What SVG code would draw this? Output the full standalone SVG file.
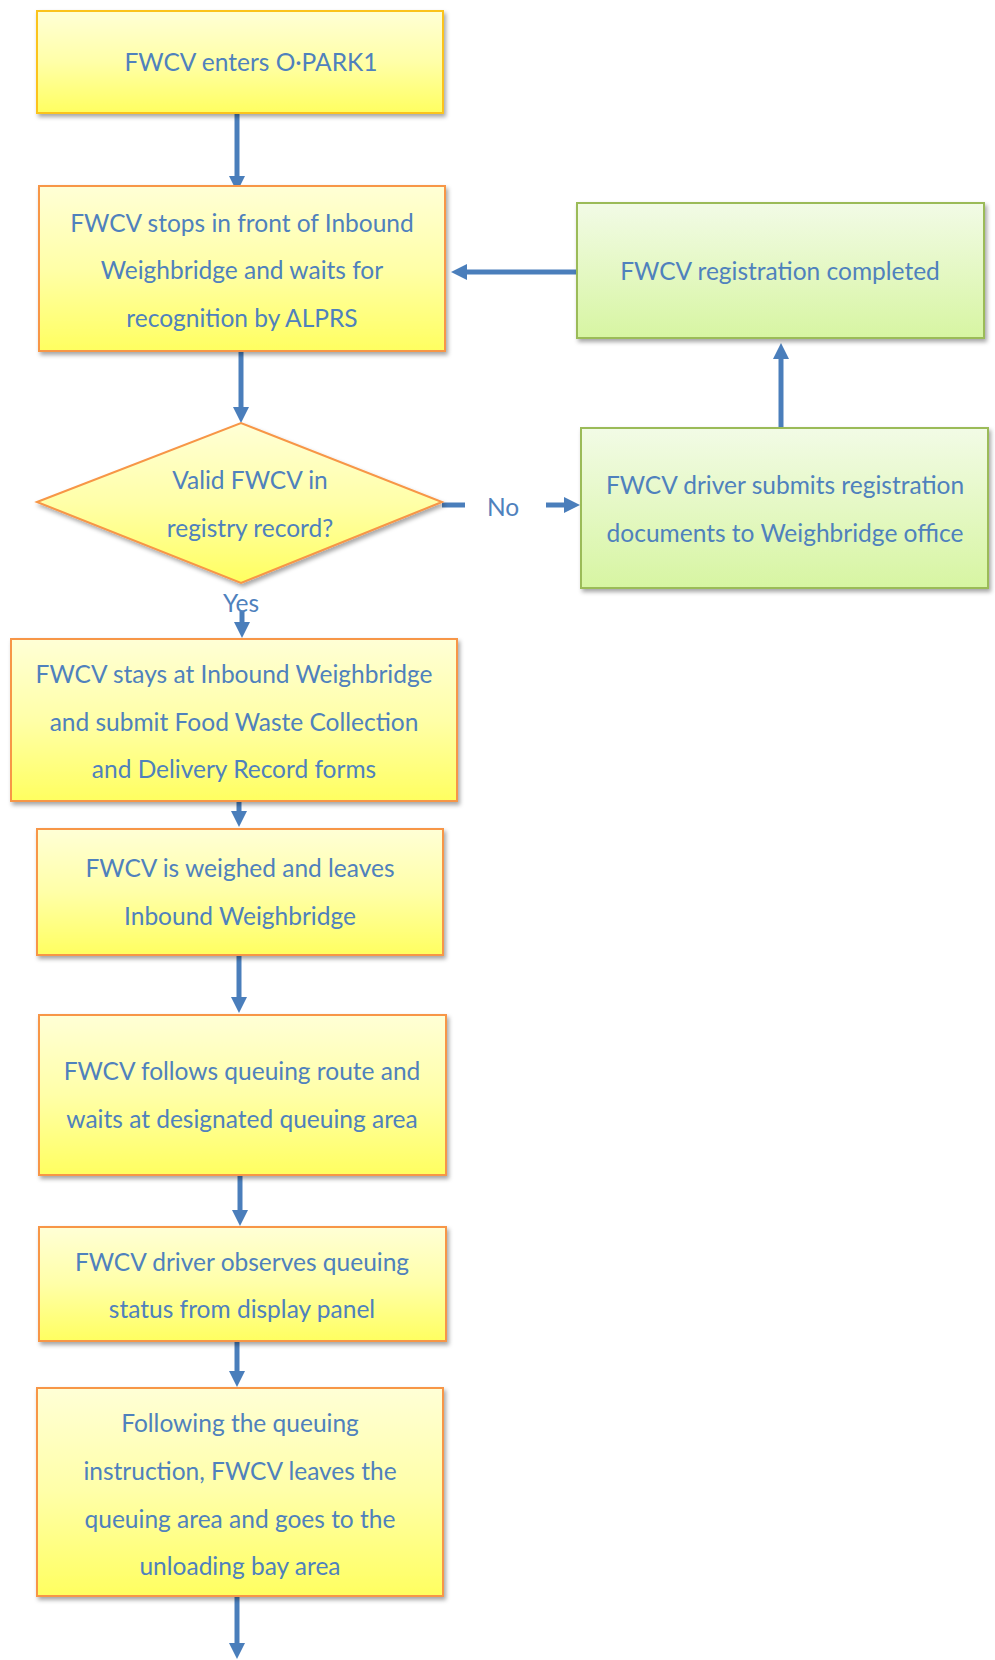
<svg xmlns="http://www.w3.org/2000/svg" width="995" height="1660" viewBox="0 0 995 1660">
<style>
  .y { fill: url(#gy); stroke: #F79646; stroke-width: 2; filter: url(#sh); }
  .y1 { fill: url(#gy); stroke: #FBC31A; stroke-width: 2; filter: url(#sh); }
  .g { fill: url(#gg); stroke: #9BBB59; stroke-width: 2; filter: url(#sh); }
  .t { font-family: Lato, "Open Sans", sans-serif; font-size: 24.5px; fill: #4F81BD; text-anchor: middle; }
  .c { stroke: #4A7EBB; stroke-width: 5; fill: none; }
  .ca { stroke: #4A7EBB; stroke-width: 5; fill: none; marker-end: url(#ah); }
</style>
<defs>
  <linearGradient id="gy" x1="0" y1="0" x2="0" y2="1">
    <stop offset="0" stop-color="#FFFFD6"/>
    <stop offset="0.5" stop-color="#FFFFA8"/>
    <stop offset="1" stop-color="#FFFF60"/>
  </linearGradient>
  <linearGradient id="gg" x1="0" y1="0" x2="0" y2="1">
    <stop offset="0" stop-color="#F2FBE6"/>
    <stop offset="1" stop-color="#D7F5A2"/>
  </linearGradient>
  <filter id="sh" x="-10%" y="-10%" width="120%" height="130%">
    <feDropShadow dx="2" dy="3" stdDeviation="2" flood-color="#000" flood-opacity="0.35"/>
  </filter>
  <marker id="ah" markerUnits="userSpaceOnUse" markerWidth="18" markerHeight="18" viewBox="0 -9 16 18" refX="1" refY="0" orient="auto">
    <path d="M0,-8 L16,0 L0,8 z" fill="#4A7EBB"/>
  </marker>
</defs>

<g id="connectors">
  <line class="ca" x1="237" y1="113" x2="237" y2="177"/>
  <line class="ca" x1="241" y1="351" x2="241" y2="408"/>
  <line class="ca" x1="577" y1="272" x2="466" y2="272"/>
  <line class="ca" x1="781" y1="427" x2="781" y2="358"/>
  <line class="c" x1="442" y1="505" x2="465" y2="505"/>
  <line class="ca" x1="546" y1="505" x2="565" y2="505"/>
  <line class="ca" x1="242" y1="611" x2="242" y2="623"/>
  <line class="ca" x1="239" y1="801" x2="239" y2="812"/>
  <line class="ca" x1="239" y1="955" x2="239" y2="998"/>
  <line class="ca" x1="240" y1="1175" x2="240" y2="1211"/>
  <line class="ca" x1="237" y1="1341" x2="237" y2="1372"/>
  <line class="ca" x1="237" y1="1596" x2="237" y2="1644"/>
  <text class="t" x="503" y="516">No</text>
  <text class="t" x="241" y="612">Yes</text>
</g>

<g id="n1">
  <rect class="y1" x="37" y="11" width="406" height="102"/>
  <text class="t" x="251" y="71">FWCV enters O·PARK1</text>
</g>
<g id="n2">
  <rect class="y" x="39" y="186" width="406" height="165"/>
  <text class="t" x="242" y="232">FWCV stops in front of Inbound</text>
  <text class="t" x="242" y="279">Weighbridge and waits for</text>
  <text class="t" x="242" y="327">recognition by ALPRS</text>
</g>
<g id="n3">
  <path class="y" d="M37,502 L241,423 L442,502 L241,583 Z"/>
  <text class="t" x="250" y="489">Valid FWCV in</text>
  <text class="t" x="250" y="537">registry record?</text>
</g>
<g id="n4">
  <rect class="g" x="577" y="203" width="407" height="135"/>
  <text class="t" x="780" y="280">FWCV registration completed</text>
</g>
<g id="n5">
  <rect class="g" x="581" y="428" width="407" height="160"/>
  <text class="t" x="785" y="494">FWCV driver submits registration</text>
  <text class="t" x="785" y="542">documents to Weighbridge office</text>
</g>
<g id="n6">
  <rect class="y" x="11" y="639" width="446" height="162"/>
  <text class="t" x="234" y="683">FWCV stays at Inbound Weighbridge</text>
  <text class="t" x="234" y="731">and submit Food Waste Collection</text>
  <text class="t" x="234" y="778">and Delivery Record forms</text>
</g>
<g id="n7">
  <rect class="y" x="37" y="829" width="406" height="126"/>
  <text class="t" x="240" y="877">FWCV is weighed and leaves</text>
  <text class="t" x="240" y="925">Inbound Weighbridge</text>
</g>
<g id="n8">
  <rect class="y" x="39" y="1015" width="407" height="160"/>
  <text class="t" x="242" y="1080">FWCV follows queuing route and</text>
  <text class="t" x="242" y="1128">waits at designated queuing area</text>
</g>
<g id="n9">
  <rect class="y" x="39" y="1227" width="407" height="114"/>
  <text class="t" x="242" y="1271">FWCV driver observes queuing</text>
  <text class="t" x="242" y="1318">status from display panel</text>
</g>
<g id="n10">
  <rect class="y" x="37" y="1388" width="406" height="208"/>
  <text class="t" x="240" y="1432">Following the queuing</text>
  <text class="t" x="240" y="1480">instruction, FWCV leaves the</text>
  <text class="t" x="240" y="1528">queuing area and goes to the</text>
  <text class="t" x="240" y="1575">unloading bay area</text>
</g>
</svg>
